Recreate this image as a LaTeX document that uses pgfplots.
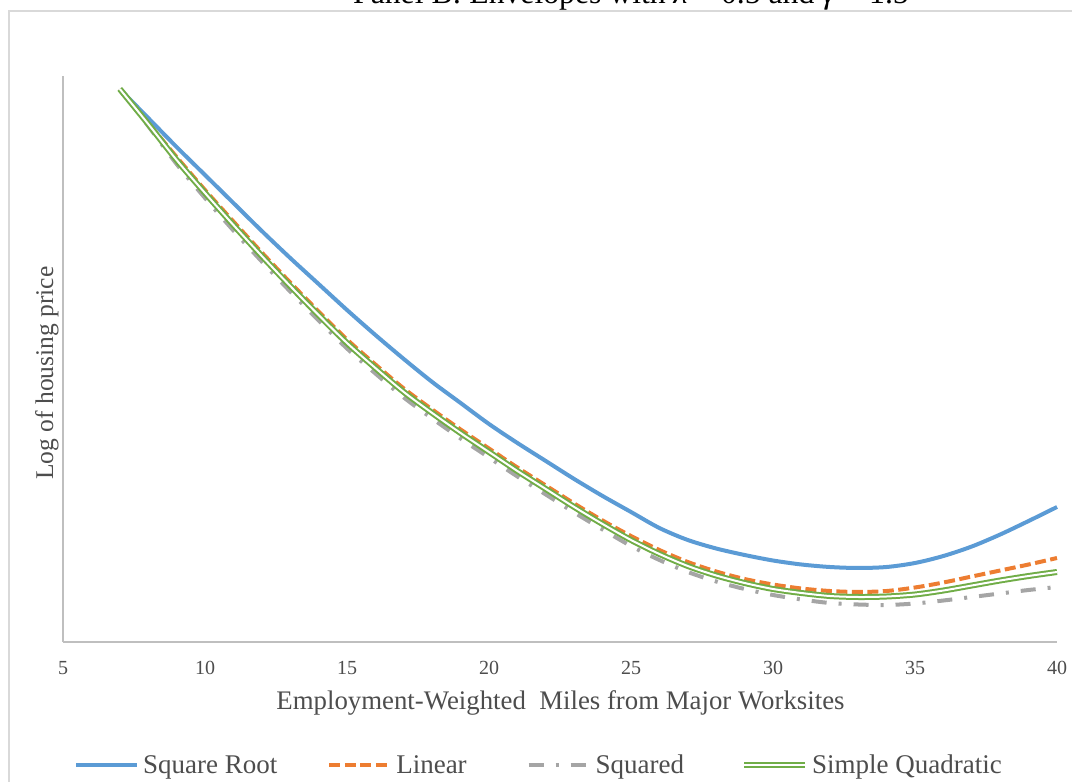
\documentclass[border=0pt]{standalone}
\usepackage{fontspec}
\setmainfont{Liberation Serif}
\usepackage{pgfplots}
\pgfplotsset{compat=1.18}
\definecolor{cblue}{HTML}{5B9BD5}
\definecolor{corange}{HTML}{ED7D31}
\definecolor{cgray}{HTML}{A5A5A5}
\definecolor{cgreen}{HTML}{70AD47}
\definecolor{labelgray}{HTML}{4D4D4D}
\definecolor{axisgray}{HTML}{BFBFBF}
\definecolor{framegray}{HTML}{D9D9D9}

\pgfplotstableread{
x y
7 5.53
8 5.24
9 4.95
10 4.67
11 4.39
12 4.11
13 3.84
14 3.58
15 3.32
16 3.07
17 2.83
18 2.60
19 2.39
20 2.18
21 1.99
22 1.81
23 1.63
24 1.46
25 1.30
26 1.14
27 1.02
28 0.935
29 0.87
30 0.815
31 0.775
32 0.75
33 0.74
34 0.75
35 0.79
36 0.86
37 0.955
38 1.075
39 1.21
40 1.35
}\sqroot

\pgfplotstableread{
x y
7 5.53
8 5.19
9 4.85
10 4.52
11 4.205
12 3.895
13 3.595
14 3.305
15 3.025
16 2.775
17 2.535
18 2.325
19 2.125
20 1.935
21 1.745
22 1.565
23 1.385
24 1.215
25 1.06
26 0.92
27 0.80
28 0.705
29 0.63
30 0.575
31 0.535
32 0.51
33 0.50
34 0.51
35 0.545
36 0.595
37 0.655
38 0.715
39 0.775
40 0.84
}\linear

\pgfplotstableread{
x y
7 5.53
8 5.16
9 4.78
10 4.44
11 4.115
12 3.805
13 3.505
14 3.215
15 2.935
16 2.685
17 2.445
18 2.235
19 2.035
20 1.845
21 1.655
22 1.475
23 1.295
24 1.125
25 0.96
26 0.82
27 0.70
28 0.605
29 0.53
30 0.47
31 0.425
32 0.39
33 0.375
34 0.37
35 0.385
36 0.415
37 0.45
38 0.485
39 0.52
40 0.55
}\squared

\pgfplotstableread{
x y
7 5.53
8 5.18
9 4.82
10 4.49
11 4.17
12 3.86
13 3.56
14 3.27
15 2.99
16 2.74
17 2.50
18 2.29
19 2.09
20 1.90
21 1.71
22 1.53
23 1.35
24 1.18
25 1.02
26 0.88
27 0.76
28 0.665
29 0.59
30 0.53
31 0.49
32 0.46
33 0.45
34 0.455
35 0.475
36 0.515
37 0.565
38 0.615
39 0.66
40 0.70
}\quadratic

\begin{document}
\begin{tikzpicture}[x=1pt,y=1pt]
\useasboundingbox (0,0) rectangle (1072,782);
\draw[line width=1.5pt, color=framegray] (9,-20) -- (9,771) -- (1090,771);
\node[anchor=base, font=\fontsize{31.7}{36}\selectfont, inner sep=0pt] at (631,778.5)
  {Panel B: Envelopes with \textit{λ} = 0.5 and \textit{γ} = 1.5};
\begin{axis}[
  at={(63pt,140pt)}, anchor=south west,
  scale only axis, width=994pt, height=566pt,
  xmin=5, xmax=40, ymin=0, ymax=5.66,
  axis x line*=bottom, axis y line*=left,
  axis line style={draw=axisgray, line width=1.2pt},
  xtick={5,10,...,40}, ytick=\empty,
  major tick length=0pt,
  /pgf/number format/assume math mode=true,
  xticklabel style={font=\fontsize{20}{24}\selectfont, text=labelgray, anchor=center, yshift=-26pt},
  xlabel={Employment-Weighted\ \ Miles from Major Worksites},
  xlabel style={at={(axis description cs:0.5005,-0.1078)}, anchor=center, font=\fontsize{26.8}{30}\selectfont, text=labelgray},
  ylabel={Log of housing price},
  ylabel style={at={(axis description cs:-0.0161,0.475)}, anchor=center, font=\fontsize{25.5}{30}\selectfont, text=labelgray},
  clip=false,
  legend columns=4,
  legend image code/.code={\draw[#1] (0pt,0pt) -- (61pt,0pt);},
  legend style={at={(axis description cs:0.0111,-0.2173)}, anchor=west,
    draw=none, fill=none, inner sep=0pt, outer sep=0pt,
    font=\fontsize{27}{30}\selectfont, text=labelgray,
    nodes={inner sep=0pt},
    /tikz/every odd column/.append style={column sep=4pt},
    /tikz/column 2/.style={column sep=50pt},
    /tikz/column 4/.style={column sep=60pt},
    /tikz/column 6/.style={column sep=57pt}},
]
\addplot[cblue, line width=4pt, smooth, tension=0.5] table[x=x,y=y] {\sqroot};
\addlegendentry{Square Root}
\addplot[corange, line width=4pt, dash pattern=on 11pt off 4.5pt, smooth, tension=0.5] table[x=x,y=y] {\linear};
\addlegendentry{Linear}
\addplot[cgray, line width=4pt, dash pattern=on 15pt off 12pt on 3pt off 12pt, smooth, tension=0.5] table[x=x,y=y] {\squared};
\addlegendentry{Squared}
\addplot[cgreen, line width=2pt, double=white, double distance=2pt, smooth, tension=0.5] table[x=x,y=y] {\quadratic};
\addlegendentry{Simple Quadratic}
\end{axis}
\end{tikzpicture}
\end{document}
